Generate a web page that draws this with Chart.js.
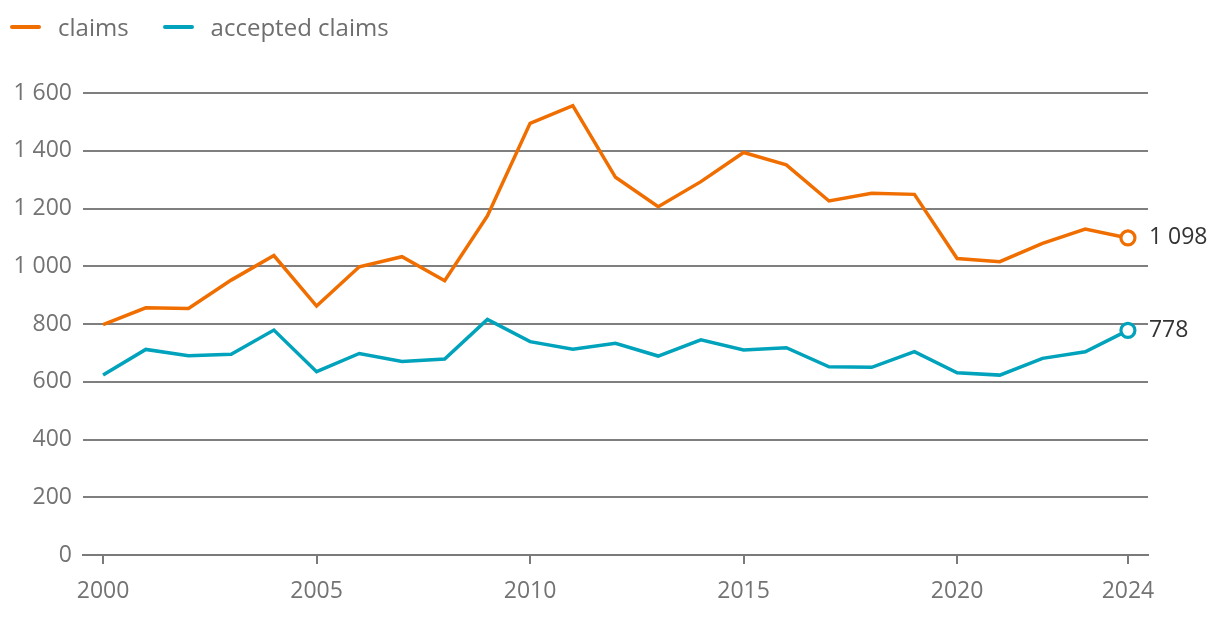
<!DOCTYPE html>
<html>
<head>
<meta charset="utf-8">
<script src="https://cdn.jsdelivr.net/npm/chart.js@4/dist/chart.umd.min.js"></script>
<style>
  html, body { margin: 0; padding: 0; background: #fff; }
  #wrap { position: relative; width: 1220px; height: 624px; }
  #legend { position: absolute; left: 10px; top: 10px; font-family: "Open Sans", sans-serif; font-size: 24px; color: #6e6e6e; display: flex; align-items: center; }
  .item { display: flex; align-items: center; margin-right: 34px; }
  .sw { width: 31px; height: 4px; border-radius: 2px; margin-right: 17px; }
</style>
</head>
<body>
<div id="wrap">
  <canvas id="c" width="1220" height="624"></canvas>
  <div id="legend"></div>
</div>
<script>
const years = [2000,2001,2002,2003,2004,2005,2006,2007,2008,2009,2010,2011,2012,2013,2014,2015,2016,2017,2018,2019,2020,2021,2022,2023,2024];
const claims = [798,856,854,952,1037,862,998,1033,950,1174,1495,1556,1308,1206,1293,1394,1351,1226,1253,1249,1027,1016,1079,1129,1098];
const acceptedClaims = [623,712,690,695,779,635,698,670,679,816,739,713,733,689,745,710,718,652,650,704,631,623,681,704,778];
const seriesNames = ['claims','accepted claims'];
const xTickValues = [2000,2005,2010,2015,2020,2024];
const yTickStep = 200;
const yMax = 1600;

const colors = ['rgb(240,110,0)','rgb(0,163,187)'];

function fmt(v){ return String(v).replace(/\B(?=(\d{3})+(?!\d))/g,' '); }

// legend
const lg = document.getElementById('legend');
seriesNames.forEach((n,i)=>{
  const d = document.createElement('div'); d.className='item';
  const s = document.createElement('div'); s.className='sw'; s.style.background=colors[i];
  const t = document.createElement('span'); t.textContent=n;
  d.appendChild(s); d.appendChild(t); lg.appendChild(d);
});

const lastLabel = {
  id:'lastLabel',
  afterDatasetsDraw(chart){
    const ctx = chart.ctx;
    ctx.save();
    ctx.font = '23px "Open Sans", sans-serif';
    ctx.fillStyle = '#333';
    ctx.textBaseline = 'middle';
    ctx.textAlign = 'left';
    chart.data.datasets.forEach((ds,i)=>{
      const meta = chart.getDatasetMeta(i);
      const el = meta.data[meta.data.length-1];
      const v = ds.data[ds.data.length-1].y;
      ctx.fillText(fmt(v), el.x + 21, el.y);
    });
    ctx.restore();
  }
};

function mk(vals){ return years.map((y,i)=>({x:y, y:vals[i]})); }
function radii(){ return years.map((y,i)=> i===years.length-1 ? 7 : 0); }

new Chart(document.getElementById('c'), {
  type:'line',
  data:{
    datasets:[
      {label:seriesNames[0], data:mk(claims), borderColor:colors[0], borderWidth:3.5, pointRadius:radii(), pointBackgroundColor:'#fff', pointBorderColor:colors[0], pointBorderWidth:3.2, tension:0, borderJoinStyle:'miter'},
      {label:seriesNames[1], data:mk(acceptedClaims), borderColor:colors[1], borderWidth:3.5, pointRadius:radii(), pointBackgroundColor:'#fff', pointBorderColor:colors[1], pointBorderWidth:3.2, tension:0, borderJoinStyle:'miter'}
    ]
  },
  options:{
    responsive:false,
    animation:false,
    events:[],
    layout:{padding:{top:93, right:72, left:0, bottom:0}},
    plugins:{legend:{display:false}, tooltip:{enabled:false}},
    scales:{
      x:{
        type:'linear', min:1999.53, max:2024.47,
        afterBuildTicks(s){ s.ticks = xTickValues.map(v=>({value:v})); },
        afterFit(s){ s.height = 69; },
        grid:{drawOnChartArea:false, drawTicks:true, tickLength:9, color:'#7a7a7a', lineWidth:2},
        border:{display:true, color:'#7a7a7a', width:2},
        ticks:{font:{family:'"Open Sans", sans-serif', size:23}, color:'#737373', padding:14, callback:v=>String(v), maxRotation:0}
      },
      y:{
        min:0, max:yMax,
        afterFit(s){ s.width = 83; },
        grid:{drawTicks:false, color:'#7f7f7f', lineWidth:2},
        border:{display:false},
        ticks:{stepSize:yTickStep, font:{family:'"Open Sans", sans-serif', size:23}, color:'#737373', padding:11, callback:v=>fmt(v)}
      }
    }
  },
  plugins:[lastLabel]
});
</script>
</body>
</html>
